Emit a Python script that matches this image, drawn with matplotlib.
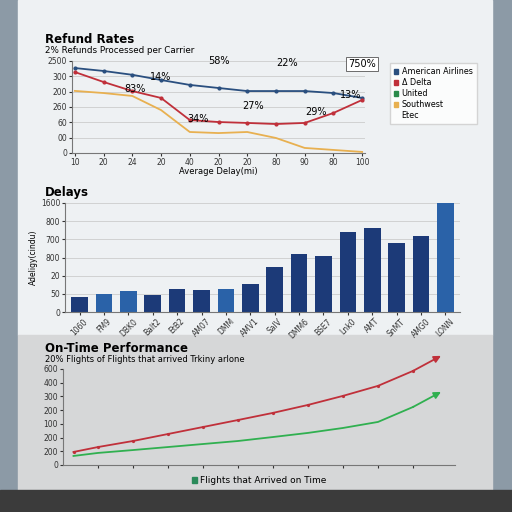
import matplotlib
matplotlib.use("Agg")
import matplotlib.pyplot as plt
from matplotlib.patches import Rectangle, Patch

# ---------- data ----------
ref_x_labels = ["10","20","24","20","40","20","20","80","90","80","100"]
ref_y_labels = ["0","00","60","260","200","300","2500"]
american = [5.54, 5.35, 5.1, 4.76, 4.44, 4.24, 4.04, 4.04, 4.04, 3.91, 3.59]
delta    = [5.28, 4.63, 4.04, 3.59, 2.15, 2.02, 1.96, 1.89, 1.96, 2.61, 3.46]
southwest= [4.05, 3.91, 3.72, 2.8, 1.37, 1.3, 1.37, 0.98, 0.33, 0.2, 0.07]
ref_notes = [("14%",3.0,4.75),("83%",2.1,4.0),("58%",5.0,5.8),("22%",7.4,5.7),
             ("13%",9.6,3.6),("27%",6.2,2.9),("34%",4.3,2.0),("29%",8.4,2.5)]
legend_names = ["American Airlines","Δ Delta","United","Southwest","Etec"]
legend_cols = ["#2a4f7f","#c0303a","#2a8a4a","#e8b050","none"]

bar_labels = ["1060","FM9","DBK0","Balt2","EtB2","AM07","DMM","AMV1",
              "SaIV","DMM6","BSE7","Lnk0","AMT","SnMT","AMG0","LONN"]
bar_values = [0.83,1.0,1.17,0.94,1.28,1.22,1.28,1.56,2.5,3.17,3.06,4.39,4.61,3.78,4.17,6.1]
bar_light = [1,2,6,15]
bar_y_labels = ["0","50","20","800","700","800","1600"]

ot_x = [0.3,1,2,3,4,5,6,7,8,9,10,10.8]
ot_red   = [0.95,1.31,1.75,2.26,2.77,3.28,3.8,4.38,5.04,5.77,6.86,7.96]
ot_green = [0.66,0.88,1.09,1.31,1.53,1.75,2.04,2.34,2.7,3.14,4.23,5.33]
ot_y_labels = ["0","200","200","100","200","300","400","600"]

fig = plt.figure(figsize=(5.12,5.12), dpi=100)
fig.patch.set_facecolor("#8c9aa6")
W=H=512
def ax_px(x0,y0,x1,y1):
    return fig.add_axes([x0/W,1-y1/H,(x1-x0)/W,(y1-y0)/H])
def rect(x,y,w,h,c):
    r=Rectangle((x/W,1-(y+h)/H),w/W,h/H,transform=fig.transFigure,color=c,zorder=-10)
    fig.add_artist(r)
rect(18,0,474,335,"#eef1f3")
rect(18,335,474,155,"#d6d7d8")
rect(0,490,512,22,"#3b3b3b")

def style(ax):
    ax.set_facecolor("none")
    for s in ["top","right"]: ax.spines[s].set_visible(False)
    for s in ["left","bottom"]: ax.spines[s].set_color("#777")
    ax.tick_params(labelsize=5.5, length=2, pad=1.5, colors="#333")

# ---------- top ----------
fig.text(45/W,1-43/H,"Refund Rates",fontsize=8.5,fontweight="bold")
fig.text(45/W,1-53/H,"2% Refunds Processed per Carrier",fontsize=6.3)
ax=ax_px(72,61,365,153); style(ax)
xs=range(len(ref_x_labels))
ax.plot(xs,american,color="#2a4f7f",lw=1.3,marker="o",ms=2)
ax.plot(xs,delta,color="#c0303a",lw=1.3,marker="o",ms=2)
ax.plot(xs,southwest,color="#e8b050",lw=1.3)
ax.set_xlim(-0.1,10.1); ax.set_ylim(0,6)
ax.set_xticks(list(xs)); ax.set_xticklabels(ref_x_labels)
ax.set_yticks(range(7)); ax.set_yticklabels(ref_y_labels)
ax.grid(axis="y",color="#ccc",lw=0.6)
ax.set_xlabel("Average Delay(mi)",fontsize=6,labelpad=0)
for t,x,y in ref_notes: ax.text(x,y,t,fontsize=7,ha="center")
ax.text(10,5.6,"750%",fontsize=7,ha="center",bbox=dict(fc="white",ec="#555",lw=0.6,pad=1.5))
handles=[Patch(color=c,label=n) for n,c in zip(legend_names,legend_cols)]
ax.legend(handles=handles,loc="upper left",bbox_to_anchor=(1.07,1.02),fontsize=5.8,frameon=True,
          handlelength=0.6,handleheight=0.6,handletextpad=0.4,borderpad=0.5,labelspacing=0.25,
          fancybox=False,edgecolor="#ccc")

# ---------- bars ----------
fig.text(45/W,1-196/H,"Delays",fontsize=8.5,fontweight="bold")
ax=ax_px(65,203,460,312); style(ax)
cols=["#2a62a8" if i in bar_light else "#1c3a78" for i in range(len(bar_values))]
ax.bar(range(len(bar_values)),bar_values,width=0.68,color=cols)
ax.set_xlim(-0.6,15.6); ax.set_ylim(0,6)
ax.set_yticks(range(7)); ax.set_yticklabels(bar_y_labels)
ax.set_xticks(range(len(bar_labels))); ax.set_xticklabels(bar_labels,rotation=45,fontsize=5.5)
ax.grid(axis="y",color="#ccc",lw=0.6); ax.set_axisbelow(True)
ax.set_ylabel("Adeligy(cindu)",fontsize=5.5,labelpad=2)

# ---------- on-time ----------
fig.text(45/W,1-352/H,"On-Time Performance",fontsize=8.5,fontweight="bold")
fig.text(45/W,1-362/H,"20% Flights of Flights that arrived Trkiny arlone",fontsize=6)
ax=ax_px(63,369,455,465); style(ax)
ax.plot(ot_x[:-1],ot_red[:-1],color="#c0303a",lw=1.3,marker="o",ms=1.3)
ax.plot(ot_x[:-1],ot_green[:-1],color="#30b050",lw=1.3)
ax.annotate("",xy=(ot_x[-1],ot_red[-1]),xytext=(ot_x[-2],ot_red[-2]),annotation_clip=False,
            arrowprops=dict(arrowstyle="-|>",color="#c0303a",lw=1.3,shrinkA=0,shrinkB=0))
ax.annotate("",xy=(ot_x[-1],ot_green[-1]),xytext=(ot_x[-2],ot_green[-2]),annotation_clip=False,
            arrowprops=dict(arrowstyle="-|>",color="#30b050",lw=1.3,shrinkA=0,shrinkB=0))
ax.set_xlim(0,11.2); ax.set_ylim(0,7)
ax.set_xticks(range(1,11)); ax.set_xticklabels([])
ax.set_yticks(range(8)); ax.set_yticklabels(ot_y_labels)
ax.legend(handles=[Patch(color="#2a8a5a",label="Flights that Arrived on Time")],
          loc="upper center",bbox_to_anchor=(0.5,-0.03),fontsize=6.5,frameon=False,
          handlelength=0.6,handleheight=0.6,handletextpad=0.3)
fig.savefig("out.png",dpi=100)
